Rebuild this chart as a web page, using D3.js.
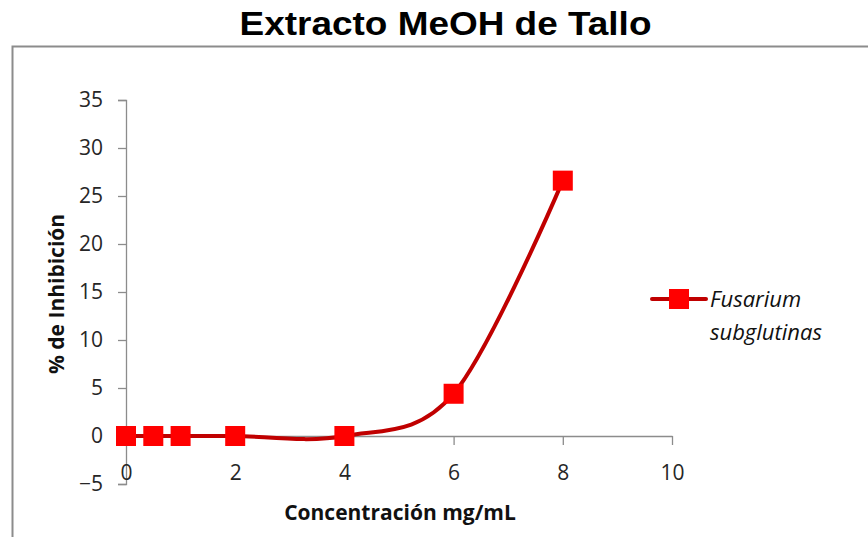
<!DOCTYPE html>
<html>
<head>
<meta charset="utf-8">
<script src="https://cdn.jsdelivr.net/npm/d3@7"></script>
<style>
  body { margin: 0; background: #fff; }
  svg { display: block; }
</style>
</head>
<body>
<div class="chart"></div>
<script>
// data
var conc = [0, 0.5, 1, 2, 4, 6, 8];
var inhib = [0, 0, 0, 0, 0, 4.4, 26.6];
var xTicks = [0, 2, 4, 6, 8, 10];
var yTicks = [-5, 0, 5, 10, 15, 20, 25, 30, 35];
var seriesName = ['Fusarium', 'subglutinas'];

const W = 868, H = 537;
var margin = {top: 100, right: 196, bottom: 53, left: 126};   // plot box inside the frame

var svg = d3.select('.chart')
            .append('svg')
            .attr('width', W)
            .attr('height', H);

// outer frame (runs off the right / bottom edge)
svg.append('rect')
    .attr('x', 12.5).attr('y', 46.5)
    .attr('width', W).attr('height', H)
    .attr('fill', 'none')
    .attr('stroke', '#8c8c8c')
    .attr('stroke-width', 2);

// title - a bit wider than plain Arial in the original
svg.append('g')
    .attr('transform', 'translate(445.5,35) scale(1.12,1)')
    .append('text')
    .attr('text-anchor', 'middle')
    .style('font-family', 'Liberation Sans, Arial')
    .style('font-weight', 'bold')
    .style('font-size', '33px')
    .text('Extracto MeOH de Tallo');

var x = d3.scaleLinear().domain([0, 10]).range([margin.left, W - margin.right]);
var y = d3.scaleLinear().domain([-5, 35]).range([H - margin.bottom, margin.top]);

const axisColor = '#8c8c8c';
const labelFont = 'Open Sans, Noto Sans, sans-serif';

// y axis
var yAxis = svg.append('g')
    .attr('transform', `translate(${x(0)},0)`)
    .call(d3.axisLeft(y).tickValues(yTicks).tickSize(8).tickPadding(15));
yAxis.select('.domain').attr('stroke', axisColor).attr('stroke-width', 1.3);
yAxis.selectAll('.tick line').attr('stroke', axisColor).attr('stroke-width', 1.3);
yAxis.selectAll('.tick text')
    .style('font-family', labelFont).style('font-size', '21px').attr('fill', '#262626');

// x axis sits on y = 0
var xAxis = svg.append('g')
    .attr('transform', `translate(0,${y(0)})`)
    .call(d3.axisBottom(x).tickValues(xTicks).tickSize(9).tickSizeOuter(0).tickPadding(20));
xAxis.select('.domain').attr('stroke', axisColor).attr('stroke-width', 1.3);
xAxis.selectAll('.tick line').attr('stroke', axisColor).attr('stroke-width', 1.3);
xAxis.selectAll('.tick text')
    .style('font-family', labelFont).style('font-size', '21px').attr('fill', '#262626');

// axis titles
svg.append('text')
    .attr('x', 400).attr('y', 520)
    .attr('text-anchor', 'middle')
    .style('font-family', labelFont).style('font-weight', 'bold').style('font-size', '21px')
    .attr('fill', '#111')
    .text('Concentración mg/mL');

svg.append('text')
    .attr('transform', 'translate(64,294) rotate(-90)')
    .attr('text-anchor', 'middle')
    .style('font-family', labelFont).style('font-weight', 'bold').style('font-size', '21px')
    .attr('fill', '#111')
    .text('% de Inhibición');

// smoothed line (Excel style)
var pts = conc.map((c, i) => [c, inhib[i]]);
var line = d3.line()
    .x(d => x(d[0]))
    .y(d => y(d[1]))
    .curve(d3.curveCardinal.tension(0));

svg.append('path')
    .datum(pts)
    .attr('d', line)
    .attr('fill', 'none')
    .attr('stroke', '#c00000')
    .attr('stroke-width', 4)
    .attr('stroke-linecap', 'round');

const ms = 20;
svg.selectAll('.marker')
    .data(pts)
    .enter()
    .append('rect')
    .attr('class', 'marker')
    .attr('x', d => x(d[0]) - ms / 2)
    .attr('y', d => y(d[1]) - ms / 2)
    .attr('width', ms).attr('height', ms)
    .attr('fill', '#ff0000');

// legend
var leg = svg.append('g').attr('transform', 'translate(652,299)');
leg.append('line')
    .attr('x1', 0).attr('x2', 54).attr('y1', 0).attr('y2', 0)
    .attr('stroke', '#c00000').attr('stroke-width', 4).attr('stroke-linecap', 'round');
leg.append('rect')
    .attr('x', 27 - ms / 2).attr('y', -ms / 2)
    .attr('width', ms).attr('height', ms)
    .attr('fill', '#ff0000');
leg.selectAll('.legText')
    .data(seriesName)
    .enter()
    .append('text')
    .attr('class', 'legText')
    .attr('x', 58)
    .attr('y', (d, i) => 8 + i * 33)
    .style('font-family', labelFont).style('font-style', 'italic').style('font-size', '22px')
    .attr('fill', '#111')
    .text(d => d);
</script>
</body>
</html>
